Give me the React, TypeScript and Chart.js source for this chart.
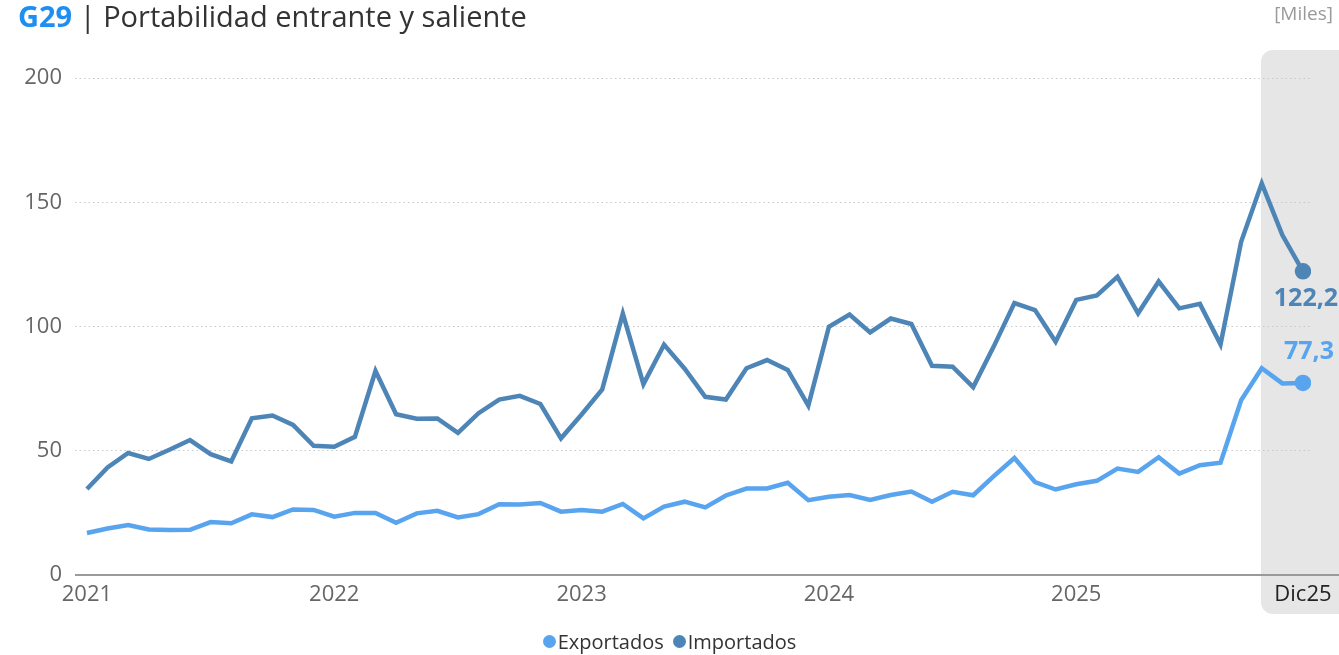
import React, { useEffect, useRef } from 'react';
import { Chart, registerables } from 'chart.js';

Chart.register(...registerables);

const monthNames = ['Ene', 'Feb', 'Mar', 'Abr', 'May', 'Jun', 'Jul', 'Ago', 'Sep', 'Oct', 'Nov', 'Dic'];
const years = ['21', '22', '23', '24', '25'];
const categories: string[] = years.flatMap((y) => monthNames.map((m) => m + y));

const exportados = [
  16.9, 18.7, 20.1, 18.3, 18.1, 18.2, 21.3, 20.8, 24.4, 23.3,
  26.4, 26.2, 23.5, 25.0, 25.0, 21.0, 24.8, 25.8, 23.2, 24.5,
  28.5, 28.4, 29.0, 25.5, 26.2, 25.5, 28.6, 22.8, 27.5, 29.5,
  27.2, 32.0, 34.8, 34.8, 37.1, 30.1, 31.5, 32.2, 30.2, 32.2,
  33.6, 29.5, 33.5, 32.1, 39.8, 47.1, 37.4, 34.4, 36.5, 37.9,
  42.8, 41.5, 47.4, 40.8, 44.2, 45.2, 70.3, 83.2, 77.1, 77.3,
];

const importados = [
  34.6, 43.3, 49.1, 46.7, 50.4, 54.3, 48.6, 45.7, 63.1, 64.2,
  60.4, 52.0, 51.6, 55.6, 82.1, 64.7, 62.9, 63.0, 57.2, 65.1,
  70.6, 72.1, 68.8, 55.0, 64.6, 74.7, 105.2, 76.8, 92.7, 83.0,
  71.7, 70.6, 83.2, 86.5, 82.5, 68.2, 99.9, 104.8, 97.6, 103.2,
  101.0, 84.2, 83.8, 75.6, 92.0, 109.4, 106.6, 93.9, 110.7, 112.5,
  120.0, 105.3, 118.1, 107.3, 109.1, 92.8, 134.1, 157.6, 136.8, 122.2,
];

const xTickCategories = ['Ene21', 'Ene22', 'Ene23', 'Ene24', 'Ene25', 'Dic25'];
const xTickLabels = ['2021', '2022', '2023', '2024', '2025', 'Dic25'];
const yTicks = [0, 50, 100, 150, 200];

const EXP_COLOR = '#58a4ee';
const IMP_COLOR = '#4e85b7';
const FONT = '"Open Sans", "Noto Sans", sans-serif';

const fmt = (v: number) => v.toFixed(1).replace('.', ',');

export default function App() {
  const canvasRef = useRef<HTMLCanvasElement | null>(null);

  useEffect(() => {
    document.body.style.margin = '0';
    document.body.style.overflow = 'hidden';
    const canvas = canvasRef.current;
    if (!canvas) return;
    const last = categories.length - 1;
    const xTickIdx = xTickCategories.map((c) => categories.indexOf(c));

    const bandPlugin = {
      id: 'band',
      beforeDraw(chart: any) {
        const { ctx } = chart;
        const xs = chart.scales.x;
        const cx = xs.getPixelForValue(last);
        const left = cx - 42;
        ctx.save();
        ctx.fillStyle = '#e6e6e6';
        ctx.beginPath();
        (ctx as any).roundRect(left, 50, 140, 564, 12);
        ctx.fill();
        ctx.restore();
      },
      beforeDatasetsDraw(chart: any) {
        const { ctx, chartArea } = chart;
        ctx.save();
        ctx.strokeStyle = '#9a9a9a';
        ctx.lineWidth = 2;
        ctx.beginPath();
        ctx.moveTo(chartArea.left, chartArea.bottom);
        ctx.lineTo(chart.width, chartArea.bottom);
        ctx.stroke();
        ctx.restore();
      },
      afterDatasetsDraw(chart: any) {
        const { ctx } = chart;
        ctx.save();
        ctx.font = `bold 25px ${FONT}`;
        ctx.textAlign = 'center';
        ctx.textBaseline = 'middle';
        chart.data.datasets.forEach((ds: any, di: number) => {
          const meta = chart.getDatasetMeta(di);
          const pt = meta.data[last];
          if (!pt) return;
          const v = ds.data[last].y;
          ctx.fillStyle = ds.borderColor;
          const isImp = ds.label === 'Importados';
          const dy = isImp ? 28 : -31;
          const dx = isImp ? 3 : 6;
          ctx.fillText(fmt(v), pt.x + dx, pt.y + dy);
        });
        ctx.restore();
      },
    };

    const chart = new Chart(canvas, {
      type: 'line',
      data: {
        datasets: [
          {
            label: 'Exportados',
            data: exportados.map((v, i) => ({ x: i, y: v })),
            borderColor: EXP_COLOR,
            backgroundColor: EXP_COLOR,
            borderWidth: 4.5,
            pointRadius: (c: any) => (c.dataIndex === last ? 6 : 0),
            pointHoverRadius: 0,
            tension: 0,
          },
          {
            label: 'Importados',
            data: importados.map((v, i) => ({ x: i, y: v })),
            borderColor: IMP_COLOR,
            backgroundColor: IMP_COLOR,
            borderWidth: 4.5,
            pointRadius: (c: any) => (c.dataIndex === last ? 6 : 0),
            pointHoverRadius: 0,
            tension: 0,
          },
        ],
      },
      options: {
        animation: false,
        responsive: false,
        maintainAspectRatio: false,
        layout: { padding: { top: 78, right: 28, bottom: 40, left: 0 } },
        plugins: {
          legend: { display: false },
          tooltip: { enabled: false },
        },
        scales: {
          x: {
            type: 'linear',
            min: -0.58,
            max: last + 0.39,
            grid: { display: false, drawTicks: false },
            border: { display: false },
            afterBuildTicks: (s: any) => {
              s.ticks = xTickIdx.map((v) => ({ value: v }));
            },
            afterFit: (s: any) => {
              s.height = 40;
            },
            ticks: {
              autoSkip: false,
              maxRotation: 0,
              padding: 7,
              font: { family: FONT, size: 22 },
              color: (c: any) => (c.tick && c.tick.value === last ? '#222222' : '#666666'),
              callback: (v: any) => {
                const k = xTickIdx.indexOf(Number(v));
                return k >= 0 ? xTickLabels[k] : '';
              },
            },
          },
          y: {
            min: 0,
            max: 200,
            afterBuildTicks: (s: any) => {
              s.ticks = yTicks.map((v) => ({ value: v }));
            },
            afterFit: (s: any) => {
              s.width = 75;
            },
            grid: {
              drawTicks: false,
              color: (c: any) => (c.tick && c.tick.value === 0 ? 'rgba(0,0,0,0)' : '#c9c9c9'),
              lineWidth: 1,
            },
            border: { display: false, dash: [1.5, 3] },
            ticks: {
              padding: 13,
              font: { family: FONT, size: 22 },
              color: '#666666',
            },
          },
        },
      },
      plugins: [bandPlugin],
    } as any);

    return () => {
      chart.destroy();
    };
  }, []);

  return (
    <div style={{ position: 'relative', width: 1339, height: 655, overflow: 'hidden', fontFamily: FONT }}>
      <canvas ref={canvasRef} width={1339} height={655} style={{ position: 'absolute', left: 0, top: 0 }} />
      <div
        style={{
          position: 'absolute',
          left: 18,
          top: 1,
          fontSize: 29,
          lineHeight: '29px',
          whiteSpace: 'nowrap',
          color: '#333333',
        }}
      >
        <span style={{ color: '#1f8ef1', fontWeight: 700 }}>G29</span>
        <span> | Portabilidad entrante y saliente</span>
      </div>
      <div
        style={{
          position: 'absolute',
          right: 6,
          top: 4,
          fontSize: 19,
          lineHeight: '19px',
          color: '#9a9a9a',
        }}
      >
        [Miles]
      </div>
      <div
        style={{
          position: 'absolute',
          left: 0,
          width: 1339,
          top: 629,
          height: 24,
          display: 'flex',
          justifyContent: 'center',
          alignItems: 'center',
          fontSize: 20,
          color: '#333333',
        }}
      >
        <span style={{ display: 'inline-flex', alignItems: 'center', marginRight: 9 }}>
          <span style={{ width: 13, height: 13, borderRadius: 7, background: EXP_COLOR, marginRight: 2 }} />
          Exportados
        </span>
        <span style={{ display: 'inline-flex', alignItems: 'center' }}>
          <span style={{ width: 13, height: 13, borderRadius: 7, background: IMP_COLOR, marginRight: 2 }} />
          Importados
        </span>
      </div>
    </div>
  );
}
